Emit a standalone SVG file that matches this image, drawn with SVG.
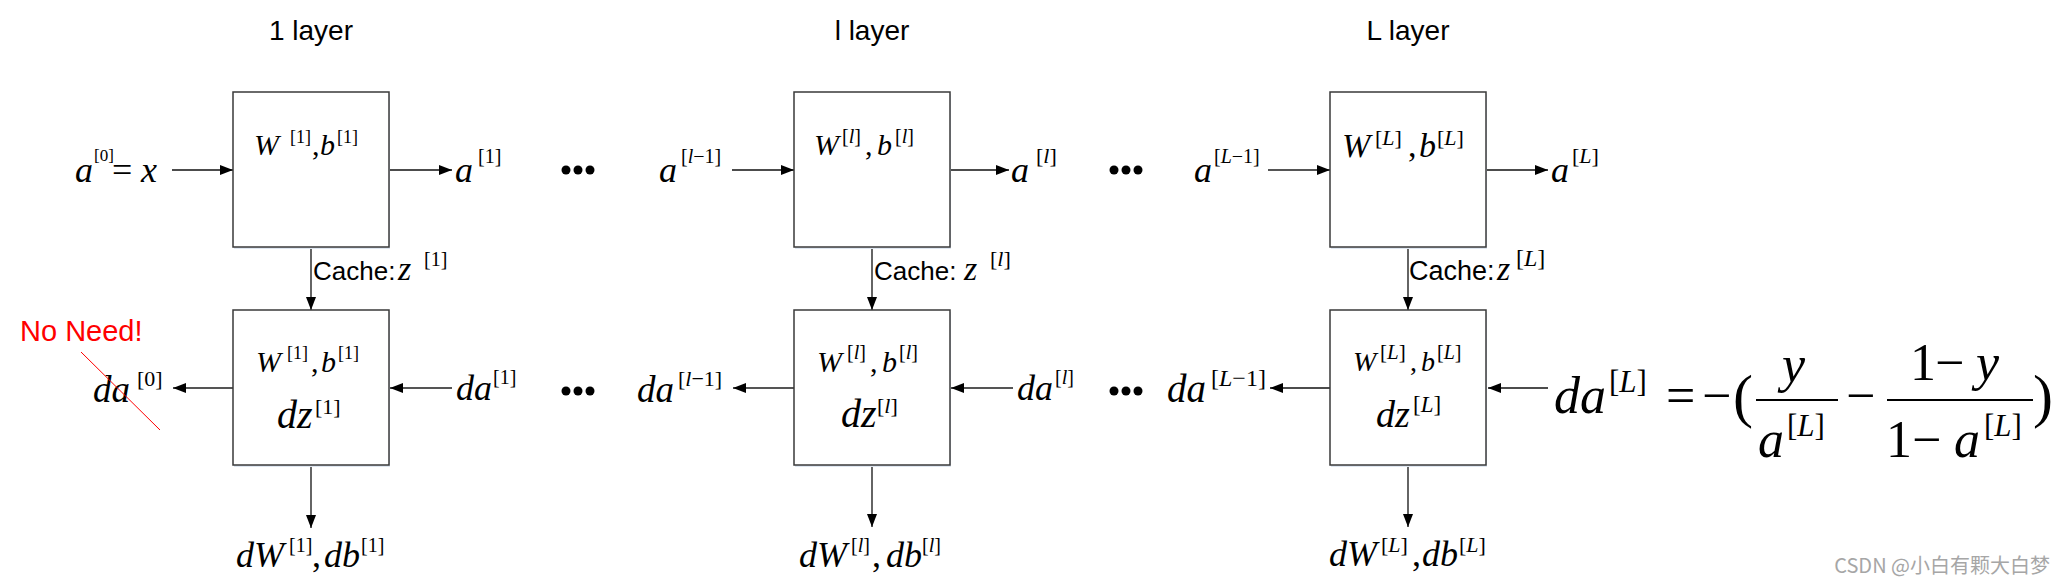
<svg xmlns="http://www.w3.org/2000/svg" width="2065" height="585" viewBox="0 0 2065 585">
<style>
.m{font-family:"Liberation Serif","Times New Roman",serif;fill:#000}
.i{font-style:italic}
.s{font-family:"Liberation Sans",Arial,sans-serif;fill:#000}
.box{fill:#fff;stroke:#3a3a3a;stroke-width:1.5}
.shadow{fill:#dfe7f1;stroke:none}
.c{stroke:#111;stroke-width:1.3;fill:none;marker-end:url(#ah)}
.cg{stroke:#555;stroke-width:2;fill:none;marker-end:url(#ah)}
.dot{fill:#000}
.bar{stroke:#000;stroke-width:2}
</style>
<defs>
<marker id="ah" markerUnits="userSpaceOnUse" markerWidth="13" markerHeight="10" refX="13" refY="5" orient="auto">
<path d="M0,0 L13,5 L0,10 z" fill="#000"/>
</marker>
</defs>
<rect width="2065" height="585" fill="#fff"/>

<g id="titles">
<text class="s" x="311" y="40" font-size="28" text-anchor="middle">1 layer</text>
<text class="s" x="872" y="40" font-size="28" text-anchor="middle">l layer</text>
<text class="s" x="1408" y="40" font-size="28" text-anchor="middle">L layer</text>
</g>

<g id="connectors">
<line class="c" x1="172" y1="170" x2="233" y2="170"/>
<line class="c" x1="389" y1="170" x2="452" y2="170"/>
<line class="c" x1="311" y1="247" x2="311" y2="310"/>
<line class="cg" x1="233" y1="388" x2="173" y2="388"/>
<line class="cg" x1="452" y1="388" x2="390" y2="388"/>
<line class="c" x1="311" y1="465" x2="311" y2="528"/>

<line class="c" x1="732" y1="170" x2="794" y2="170"/>
<line class="c" x1="950" y1="170" x2="1009" y2="170"/>
<line class="c" x1="872" y1="247" x2="872" y2="310"/>
<line class="cg" x1="794" y1="388" x2="733" y2="388"/>
<line class="cg" x1="1013" y1="388" x2="951" y2="388"/>
<line class="c" x1="872" y1="465" x2="872" y2="527"/>

<line class="cg" x1="1268" y1="170" x2="1330" y2="170"/>
<line class="c" x1="1486" y1="170" x2="1548" y2="170"/>
<line class="c" x1="1408" y1="247" x2="1408" y2="310"/>
<line class="c" x1="1330" y1="388" x2="1270" y2="388"/>
<line class="c" x1="1548" y1="388" x2="1488" y2="388"/>
<line class="c" x1="1408" y1="465" x2="1408" y2="527"/>
</g>

<g id="fwd1">
<rect class="shadow" x="234" y="94" width="156" height="155"/>
<rect class="box" x="233" y="92" width="156" height="155"/>
<text class="m" y="155" font-size="30"><tspan class="i" x="254">W</tspan><tspan x="290" y="143" font-size="18">[1]</tspan><tspan x="312" y="155">,</tspan><tspan class="i" x="320">b</tspan><tspan x="337" y="143" font-size="18">[1]</tspan></text>
</g>
<g id="bwd1">
<rect class="shadow" x="234" y="312" width="156" height="155"/>
<rect class="box" x="233" y="310" width="156" height="155"/>
<text class="m" y="372" font-size="30"><tspan class="i" x="256">W</tspan><tspan x="287" y="359" font-size="18">[1]</tspan><tspan x="311" y="372">,</tspan><tspan class="i" x="321">b</tspan><tspan x="338" y="359" font-size="18">[1]</tspan></text>
<text class="m" y="428" font-size="40"><tspan class="i" x="277">dz</tspan><tspan x="315" y="414" font-size="22">[1]</tspan></text>
</g>

<g id="fwdl">
<rect class="shadow" x="795" y="94" width="156" height="155"/>
<rect class="box" x="794" y="92" width="156" height="155"/>
<text class="m" y="155" font-size="30"><tspan class="i" x="814">W</tspan><tspan x="842" y="143" font-size="20">[<tspan class="i">l</tspan>]</tspan><tspan x="865" y="155">,</tspan><tspan class="i" x="877">b</tspan><tspan x="895" y="143" font-size="20">[<tspan class="i">l</tspan>]</tspan></text>
</g>
<g id="bwdl">
<rect class="shadow" x="795" y="312" width="156" height="155"/>
<rect class="box" x="794" y="310" width="156" height="155"/>
<text class="m" y="372" font-size="30"><tspan class="i" x="817">W</tspan><tspan x="847" y="359" font-size="20">[<tspan class="i">l</tspan>]</tspan><tspan x="870" y="372">,</tspan><tspan class="i" x="882">b</tspan><tspan x="899" y="359" font-size="20">[<tspan class="i">l</tspan>]</tspan></text>
<text class="m" y="427" font-size="40"><tspan class="i" x="841">dz</tspan><tspan x="877" y="413" font-size="22">[<tspan class="i">l</tspan>]</tspan></text>
</g>

<g id="fwdL">
<rect class="shadow" x="1331" y="94" width="156" height="155"/>
<rect class="box" x="1330" y="92" width="156" height="155"/>
<text class="m" y="157" font-size="34"><tspan class="i" x="1342">W</tspan><tspan x="1375" y="145" font-size="22">[<tspan class="i">L</tspan>]</tspan><tspan x="1408" y="157">,</tspan><tspan class="i" x="1419">b</tspan><tspan x="1437" y="145" font-size="22">[<tspan class="i">L</tspan>]</tspan></text>
</g>
<g id="bwdL">
<rect class="shadow" x="1331" y="312" width="156" height="155"/>
<rect class="box" x="1330" y="310" width="156" height="155"/>
<text class="m" y="371" font-size="28"><tspan class="i" x="1353">W</tspan><tspan x="1380" y="359" font-size="21">[<tspan class="i">L</tspan>]</tspan><tspan x="1410" y="371">,</tspan><tspan class="i" x="1421">b</tspan><tspan x="1437" y="359" font-size="20">[<tspan class="i">L</tspan>]</tspan></text>
<text class="m" y="427" font-size="38"><tspan class="i" x="1376">dz</tspan><tspan x="1413" y="412" font-size="23">[<tspan class="i">L</tspan>]</tspan></text>
</g>

<g id="label-a0">
<text class="m" y="182" font-size="36"><tspan class="i" x="75">a</tspan><tspan x="94" y="161" font-size="17">[0]</tspan><tspan x="112" y="182">=</tspan><tspan class="i" x="141">x</tspan></text>
</g>
<g id="label-a1"><text class="m" y="182" font-size="36"><tspan class="i" x="455">a</tspan><tspan x="478" y="163" font-size="20">[1]</tspan></text></g>
<g id="label-cache1"><text class="s" x="313" y="280" font-size="26">Cache:</text><text class="m" y="280" font-size="34"><tspan class="i" x="398">z</tspan><tspan x="424" y="266" font-size="20">[1]</tspan></text></g>
<g id="label-noneed"><text class="s" x="20" y="341" font-size="29" style="fill:#ff0000">No Need!</text></g>
<g id="label-da0">
<text class="m" y="402" font-size="37"><tspan class="i" x="93">da</tspan><tspan x="137" y="386" font-size="22">[0]</tspan></text>
<line x1="81" y1="352" x2="160" y2="430" stroke="#ff0000" stroke-width="1"/>
</g>
<g id="label-da1"><text class="m" y="400" font-size="36"><tspan class="i" x="456">da</tspan><tspan x="493" y="384" font-size="20">[1]</tspan></text></g>
<g id="label-dW1"><text class="m" y="567" font-size="36"><tspan class="i" x="236">dW</tspan><tspan x="289" y="552" font-size="20">[1]</tspan><tspan x="312" y="567">,</tspan><tspan class="i" x="324">db</tspan><tspan x="361" y="552" font-size="20">[1]</tspan></text></g>

<g id="dots1"><circle class="dot" cx="566" cy="170" r="4.5"/><circle class="dot" cx="578" cy="170" r="4.5"/><circle class="dot" cx="590" cy="170" r="4.5"/><circle class="dot" cx="566" cy="391" r="4.5"/><circle class="dot" cx="578" cy="391" r="4.5"/><circle class="dot" cx="590" cy="391" r="4.5"/></g>
<g id="dots2"><circle class="dot" cx="1114" cy="170" r="4.5"/><circle class="dot" cx="1126" cy="170" r="4.5"/><circle class="dot" cx="1138" cy="170" r="4.5"/><circle class="dot" cx="1114" cy="391" r="4.5"/><circle class="dot" cx="1126" cy="391" r="4.5"/><circle class="dot" cx="1138" cy="391" r="4.5"/></g>

<g id="label-alm1"><text class="m" y="182" font-size="36"><tspan class="i" x="659">a</tspan><tspan x="681" y="163" font-size="20">[<tspan class="i">l</tspan>−1]</tspan></text></g>
<g id="label-al"><text class="m" y="182" font-size="36"><tspan class="i" x="1011">a</tspan><tspan x="1036" y="163" font-size="22">[<tspan class="i">l</tspan>]</tspan></text></g>
<g id="label-cachel"><text class="s" x="874" y="280" font-size="26">Cache:</text><text class="m" y="280" font-size="34"><tspan class="i" x="964">z</tspan><tspan x="990" y="266" font-size="22">[<tspan class="i">l</tspan>]</tspan></text></g>
<g id="label-dalm1"><text class="m" y="402" font-size="37"><tspan class="i" x="637">da</tspan><tspan x="678" y="386" font-size="22">[<tspan class="i">l</tspan>−1]</tspan></text></g>
<g id="label-dal"><text class="m" y="400" font-size="36"><tspan class="i" x="1017">da</tspan><tspan x="1055" y="384" font-size="20">[<tspan class="i">l</tspan>]</tspan></text></g>
<g id="label-dWl"><text class="m" y="567" font-size="36"><tspan class="i" x="799">dW</tspan><tspan x="851" y="552" font-size="20">[<tspan class="i">l</tspan>]</tspan><tspan x="872" y="567">,</tspan><tspan class="i" x="886">db</tspan><tspan x="922" y="552" font-size="20">[<tspan class="i">l</tspan>]</tspan></text></g>

<g id="label-aLm1"><text class="m" y="182" font-size="36"><tspan class="i" x="1194">a</tspan><tspan x="1214" y="163" font-size="20">[<tspan class="i">L</tspan>−1]</tspan></text></g>
<g id="label-aL"><text class="m" y="182" font-size="36"><tspan class="i" x="1551">a</tspan><tspan x="1572" y="163" font-size="22">[<tspan class="i">L</tspan>]</tspan></text></g>
<g id="label-cacheL"><text class="s" x="1409" y="280" font-size="27">Cache:</text><text class="m" y="280" font-size="34"><tspan class="i" x="1497">z</tspan><tspan x="1516" y="266" font-size="24">[<tspan class="i">L</tspan>]</tspan></text></g>
<g id="label-daLm1"><text class="m" y="402" font-size="39"><tspan class="i" x="1167">da</tspan><tspan x="1211" y="386" font-size="24">[<tspan class="i">L</tspan>−1]</tspan></text></g>
<g id="label-dWL"><text class="m" y="566" font-size="36"><tspan class="i" x="1329">dW</tspan><tspan x="1381" y="552" font-size="22">[<tspan class="i">L</tspan>]</tspan><tspan x="1412" y="566">,</tspan><tspan class="i" x="1422">db</tspan><tspan x="1459" y="552" font-size="22">[<tspan class="i">L</tspan>]</tspan></text></g>

<g id="equation">
<text class="m" y="413" font-size="52"><tspan class="i" x="1554">da</tspan><tspan x="1609" y="392" font-size="31">[<tspan class="i">L</tspan>]</tspan><tspan x="1666" y="413">=</tspan><tspan x="1702">−</tspan></text>
<text class="m" x="1733" y="416" font-size="60">(</text>
<line class="bar" x1="1756" y1="400" x2="1838" y2="400"/>
<text class="m i" x="1782" y="382" font-size="52">y</text>
<text class="m" y="457" font-size="52"><tspan class="i" x="1758">a</tspan><tspan x="1787" y="436" font-size="31">[<tspan class="i">L</tspan>]</tspan></text>
<text class="m" x="1846" y="413" font-size="52">−</text>
<line class="bar" x1="1887" y1="400" x2="2033" y2="400"/>
<text class="m" y="380" font-size="52"><tspan x="1910">1</tspan><tspan x="1935">−</tspan><tspan class="i" x="1976">y</tspan></text>
<text class="m" y="457" font-size="52"><tspan x="1886">1</tspan><tspan x="1912">−</tspan><tspan class="i" x="1954">a</tspan><tspan x="1984" y="436" font-size="31">[<tspan class="i">L</tspan>]</tspan></text>
<text class="m" x="2033" y="416" font-size="60">)</text>
</g>

<g id="watermark"><text x="2050" y="573" font-size="20" text-anchor="end" fill="#a6a6a6" font-family="'Noto Sans CJK SC', 'Liberation Sans', sans-serif">CSDN @小白有颗大白梦</text></g>
</svg>
